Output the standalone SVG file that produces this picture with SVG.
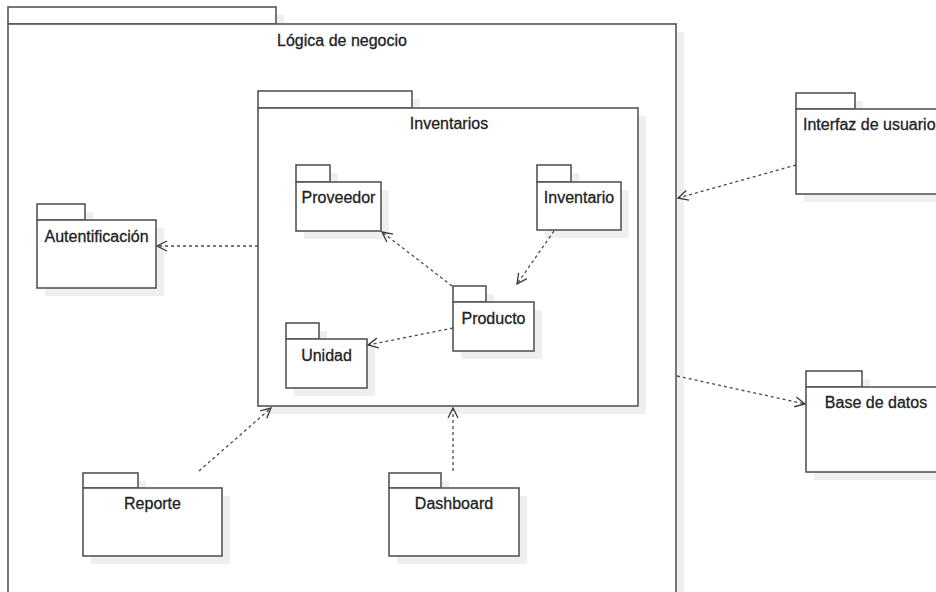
<svg xmlns="http://www.w3.org/2000/svg" width="936" height="592" viewBox="0 0 936 592">
<defs>
<style>
.pk{fill:#ffffff;stroke:#555555;stroke-width:1.6}
.sh{fill:#efefef;stroke:none}
.lb{font-family:"Liberation Sans",Arial,sans-serif;font-size:16px;fill:#222222;stroke:#222222;stroke-width:0.3;text-anchor:middle}
.cn{fill:none;stroke:#4a4a4a;stroke-width:1.3;stroke-dasharray:3 3}
</style>
<marker id="open" viewBox="0 0 12 12" refX="11" refY="6" markerWidth="12" markerHeight="12" markerUnits="userSpaceOnUse" orient="auto">
<path d="M1,1 L11,6 L1,11" fill="none" stroke="#3a3a3a" stroke-width="1.3"/>
</marker>
</defs>
<rect width="936" height="592" fill="#ffffff"/>

<g id="logica">
<rect class="sh" x="16" y="15" width="268" height="17"/>
<rect class="sh" x="16" y="32" width="668" height="580"/>
<rect class="pk" x="8" y="7" width="268" height="17"/>
<rect class="pk" x="8" y="24" width="668" height="580"/>
<text class="lb" x="342" y="46">Lógica de negocio</text>
</g>

<g id="inventarios">
<rect class="sh" x="266" y="99" width="154" height="17"/>
<rect class="sh" x="266" y="116" width="380" height="298"/>
<rect class="pk" x="258" y="91" width="154" height="17"/>
<rect class="pk" x="258" y="108" width="380" height="298"/>
<text class="lb" x="449" y="129">Inventarios</text>
</g>

<g id="proveedor">
<rect class="sh" x="304" y="173" width="34" height="17"/>
<rect class="sh" x="304" y="190" width="85" height="49"/>
<rect class="pk" x="296" y="165" width="34" height="17"/>
<rect class="pk" x="296" y="182" width="85" height="49"/>
<text class="lb" x="338.5" y="203">Proveedor</text>
</g>

<g id="inventario">
<rect class="sh" x="545" y="173" width="34" height="17"/>
<rect class="sh" x="545" y="190" width="84" height="48"/>
<rect class="pk" x="537" y="165" width="34" height="17"/>
<rect class="pk" x="537" y="182" width="84" height="48"/>
<text class="lb" x="579" y="203">Inventario</text>
</g>

<g id="producto">
<rect class="sh" x="461" y="294" width="33" height="16"/>
<rect class="sh" x="461" y="310" width="81" height="49"/>
<rect class="pk" x="453" y="286" width="33" height="16"/>
<rect class="pk" x="453" y="302" width="81" height="49"/>
<text class="lb" x="493.5" y="324">Producto</text>
</g>

<g id="unidad">
<rect class="sh" x="294" y="331" width="33" height="16"/>
<rect class="sh" x="294" y="347" width="81" height="49"/>
<rect class="pk" x="286" y="323" width="33" height="16"/>
<rect class="pk" x="286" y="339" width="81" height="49"/>
<text class="lb" x="326.5" y="361">Unidad</text>
</g>

<g id="autentificacion">
<rect class="sh" x="45" y="212" width="48" height="16"/>
<rect class="sh" x="45" y="228" width="119" height="68"/>
<rect class="pk" x="37" y="204" width="48" height="16"/>
<rect class="pk" x="37" y="220" width="119" height="68"/>
<text class="lb" x="96.5" y="242">Autentificación</text>
</g>

<g id="interfaz">
<rect class="sh" x="804" y="101" width="59" height="16"/>
<rect class="sh" x="804" y="117" width="150" height="85"/>
<rect class="pk" x="796" y="93" width="59" height="16"/>
<rect class="pk" x="796" y="109" width="150" height="85"/>
<text class="lb" x="803" y="130" style="text-anchor:start">Interfaz de usuario</text>
</g>

<g id="basedatos">
<rect class="sh" x="814" y="379" width="56" height="16"/>
<rect class="sh" x="814" y="395" width="140" height="85"/>
<rect class="pk" x="806" y="371" width="56" height="16"/>
<rect class="pk" x="806" y="387" width="140" height="85"/>
<text class="lb" x="876" y="408">Base de datos</text>
</g>

<g id="reporte">
<rect class="sh" x="91" y="481" width="55" height="15"/>
<rect class="sh" x="91" y="496" width="139" height="68"/>
<rect class="pk" x="83" y="473" width="55" height="15"/>
<rect class="pk" x="83" y="488" width="139" height="68"/>
<text class="lb" x="152.5" y="509">Reporte</text>
</g>

<g id="dashboard">
<rect class="sh" x="397" y="481" width="52" height="15"/>
<rect class="sh" x="397" y="496" width="130" height="68"/>
<rect class="pk" x="389" y="473" width="52" height="15"/>
<rect class="pk" x="389" y="488" width="130" height="68"/>
<text class="lb" x="454" y="509">Dashboard</text>
</g>

<g id="connectors">
<line class="cn" x1="258" y1="246" x2="157" y2="246" marker-end="url(#open)"/>
<line class="cn" x1="796" y1="165" x2="678" y2="198" marker-end="url(#open)"/>
<line class="cn" x1="677" y1="376" x2="805" y2="404" marker-end="url(#open)"/>
<line class="cn" x1="554" y1="231" x2="517" y2="284" marker-end="url(#open)"/>
<line class="cn" x1="452" y1="286" x2="382" y2="232" marker-end="url(#open)"/>
<line class="cn" x1="453" y1="328" x2="368" y2="345" marker-end="url(#open)"/>
<line class="cn" x1="199" y1="471" x2="271" y2="408" marker-end="url(#open)"/>
<line class="cn" x1="453" y1="471" x2="453" y2="408" marker-end="url(#open)"/>
</g>
</svg>
